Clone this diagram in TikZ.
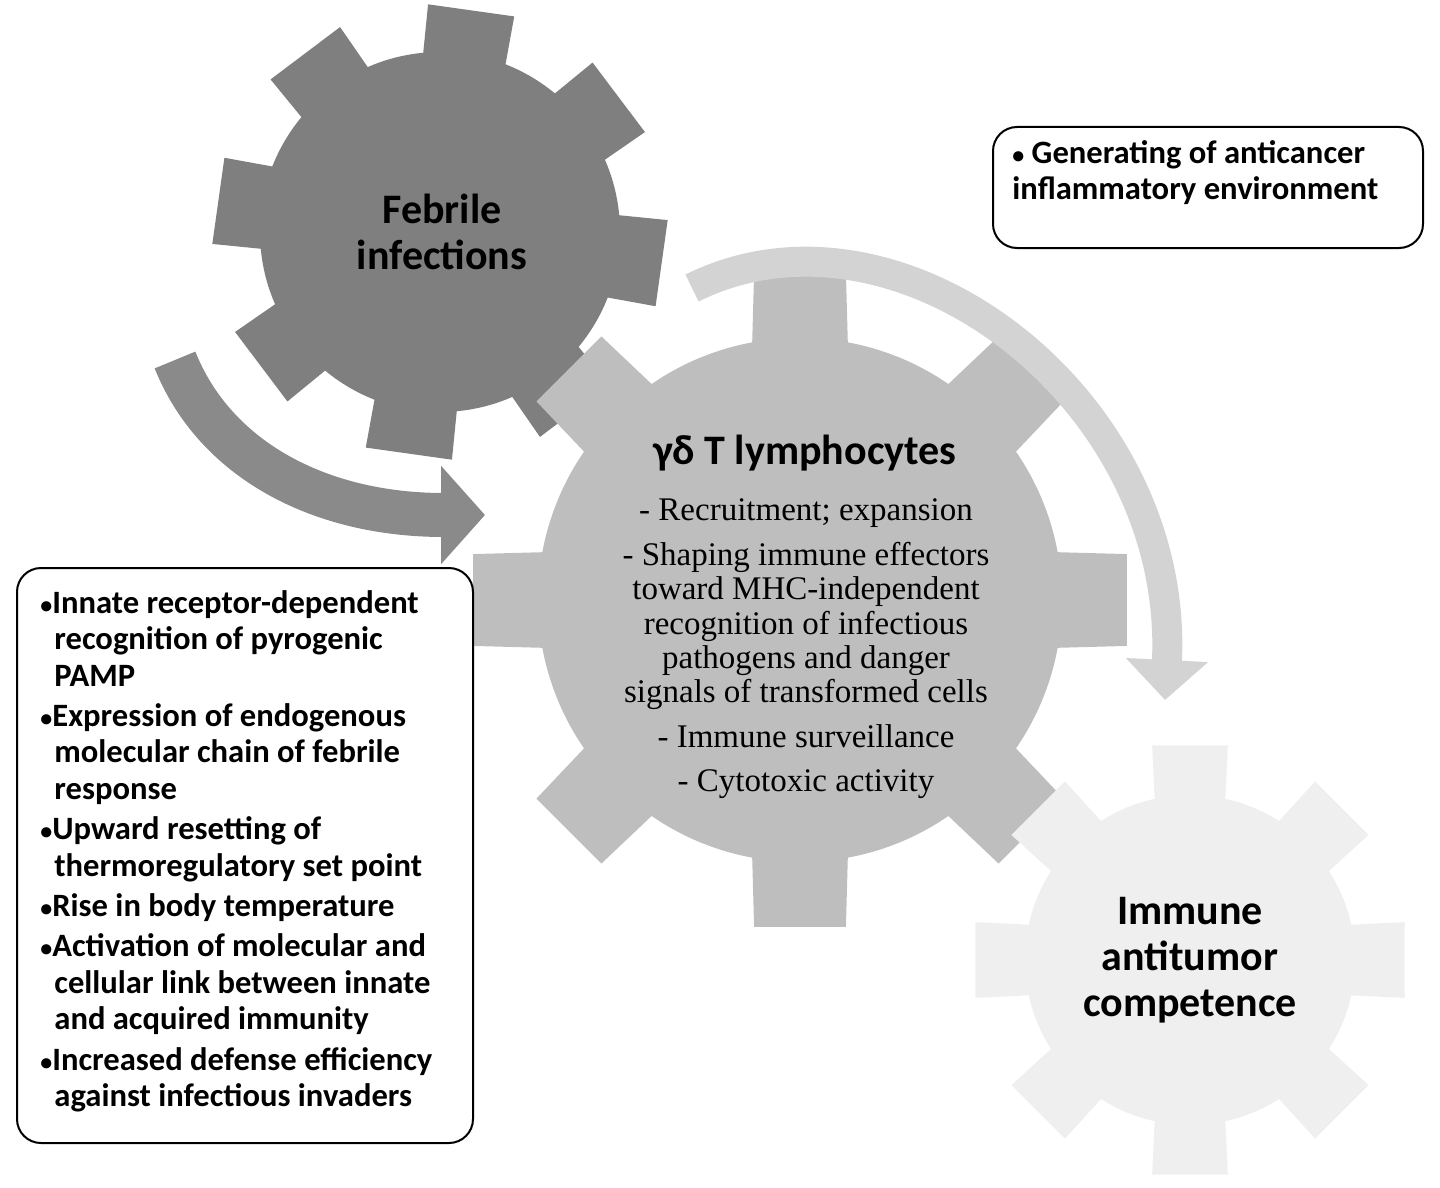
\documentclass[tikz,border=0pt]{standalone}
\usepackage{fontspec}
\setmainfont{Liberation Serif}
\newfontfamily\calfont{Carlito}
\usetikzlibrary{arrows.meta}
\definecolor{gdark}{HTML}{7F7F7F}
\definecolor{gmid}{HTML}{BEBEBE}
\definecolor{glight}{HTML}{EFEFEF}
\definecolor{adark}{HTML}{8A8A8A}
\definecolor{alight}{HTML}{D3D3D3}
\newcommand\drawgear[9]{%
\begin{scope}[shift={(#1,#2)}]
\fill[#7] (0,0) circle[radius=#3];
\foreach \i in {1,...,#5}{\pgfmathsetmacro\a{#6+360/#5*\i}
\fill[#7] (\a-#8:#3-10) -- (\a-#9:#4) -- (\a+#9:#4) -- (\a+#8:#3-10) -- cycle;}
\end{scope}}
\newcommand\bul{{\fontsize{12}{12}\selectfont•}}
\tikzset{box/.style={draw=black,line width=1pt,rounded corners=12pt,fill=white},
gearlbl/.style={font=\calfont\bfseries\fontsize{21}{23}\selectfont,align=center},
boxtxt/.style={font=\calfont\bfseries\fontsize{16.3}{18.2}\selectfont,align=left,anchor=north west,inner sep=0pt}}
\begin{document}
\begin{tikzpicture}[x=0.5pt,y=-0.5pt]
\useasboundingbox (0,0) rectangle (1440,1188);
\drawgear{440}{232}{180}{228}{8}{-82}{gdark}{14}{11}
\drawgear{800}{600}{262}{330}{8}{270}{gmid}{11}{8}
\drawgear{1190}{960}{165}{218}{8}{270}{glight}{13}{10}
\node[gearlbl] (feb) at (442,232) {Febrile\\infections};
\node[gearlbl] (imm) at (1190,960) {Immune\\antitumor\\competence};
% arrows
\coordinate (a1s) at (175,360);
\coordinate (a1e) at (485,515);
\draw[adark,line width=22pt,-{Triangle[length=22pt 0,width=48pt 0]}] (a1s) .. controls (215,460) and (320,515) .. (a1e);
\coordinate (a2s) at (692,288);
\coordinate (a2e) at (1165,700);
\draw[alight,line width=15pt,-{Triangle[length=20pt 0,width=40pt 0]}] (a2s) .. controls (900,185) and (1180,400) .. (a2e);
% central text
\node[font=\calfont\bfseries\fontsize{21}{23}\selectfont] (tit) at (805,453) {γδ T lymphocytes};
\node[align=center,font=\fontsize{16.5}{17.2}\selectfont,anchor=north] (ctx) at (806,492) {- Recruitment; expansion\\[5pt]
- Shaping immune effectors\\toward MHC-independent\\recognition of infectious\\pathogens and danger\\signals of transformed cells\\[5pt]
- Immune surveillance\\[5pt]- Cytotoxic activity};
% boxes
\draw[box] (993,127) rectangle (1423,248);
\node[boxtxt] (tr) at (1012,140) {\hspace*{0pt}\bul\ Generating of anticancer\\inflammatory environment};
\draw[box] (17,568) rectangle (473,1143);
\node[boxtxt] (lb) at (40,590) {\bul Innate receptor-dependent\\\hspace*{7pt}recognition of pyrogenic\\\hspace*{7pt}PAMP\\[2pt]
\bul Expression of endogenous\\\hspace*{7pt}molecular chain of febrile\\\hspace*{7pt}response\\[2pt]
\bul Upward resetting of\\\hspace*{7pt}thermoregulatory set point\\[2pt]
\bul Rise in body temperature\\[2pt]
\bul Activation of molecular and\\\hspace*{7pt}cellular link between innate\\\hspace*{7pt}and acquired immunity\\[2pt]
\bul Increased defense efficiency\\\hspace*{7pt}against infectious invaders};
\end{tikzpicture}
\end{document}
